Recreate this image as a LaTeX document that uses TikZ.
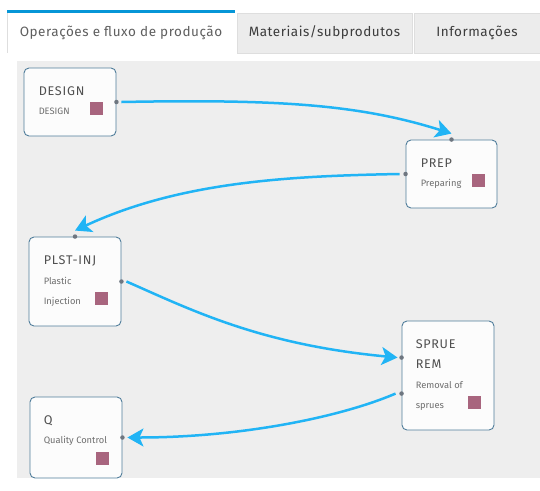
\documentclass[tikz,border=0pt]{standalone}
\usepackage{fontspec}
\setmainfont{Fira Sans}
\newfontfamily\titlefont[LetterSpace=6]{Fira Sans}
\newfontfamily\tabfont[LetterSpace=4]{Fira Sans}
\usetikzlibrary{arrows.meta}

\definecolor{canvasgray}{RGB}{238,238,238}
\definecolor{tabgray}{RGB}{236,236,236}
\definecolor{tabedge}{RGB}{222,222,222}
\definecolor{tabblue}{RGB}{6,150,215}
\definecolor{tabtext}{RGB}{60,60,60}
\definecolor{tabtextlight}{RGB}{95,95,95}
\definecolor{boxedge}{RGB}{80,125,155}
\definecolor{boxfill}{RGB}{252,252,252}
\definecolor{titlegray}{RGB}{80,80,80}
\definecolor{subgray}{RGB}{110,110,110}
\definecolor{markerred}{RGB}{168,101,126}
\definecolor{portgray}{RGB}{110,118,128}
\definecolor{flowblue}{RGB}{33,180,245}

\begin{document}
\begin{tikzpicture}
[x=1pt,y=-1pt]
\tikzset{
	tab/.style = {draw=tabedge, fill=tabgray, minimum height=40, inner sep=0, text=tabtext, font=\tabfont\fontsize{13.5}{16}\selectfont, text height=10pt, text depth=3pt},
	opbox/.style = {draw=boxedge, fill=boxfill, rounded corners=5, line width=0.9, minimum width=92},
	optitle/.style = {anchor=base west, inner sep=0, text=titlegray, font=\titlefont\fontsize{12.6}{14}\selectfont},
	opsub/.style = {anchor=base west, inner sep=0, text=subgray, font=\fontsize{9.3}{11}\selectfont},
	marker/.style = {anchor=north east, fill=markerred, minimum size=13, inner sep=0},
	port/.style = {circle, fill=portgray, inner sep=0, minimum size=4.5},
	flow/.style = {draw=flowblue, line width=2.5, -{Stealth[length=16pt,width=18pt,inset=4pt]}}
}
\useasboundingbox (0,0) rectangle (540,490);

% tabs
\node (tab-ops) [tab, fill=white, draw=none, minimum width=228, text=tabtextlight] at (121,33) {Operações e fluxo de produção};
\draw [tabedge] (tab-ops.north west) -- (tab-ops.south west);
\fill [tabblue] ([yshift=3pt]tab-ops.north west) rectangle (tab-ops.north east);
\node (tab-mat) [tab, minimum width=175] at (324.5,33) {Materiais/subprodutos};
\node (tab-info) [tab, minimum width=126] at (477,33) {Informações};

% canvas
\fill [canvasgray] (17,61) rectangle (540,478);

% operations
\node (design) [opbox, minimum height=68] at (70,102) {};
\node (prep) [opbox, minimum width=91, minimum height=68] at (451.5,174) {};
\node (plstinj) [opbox, minimum height=89] at (75,281.5) {};
\node (spruerem) [opbox, minimum height=109] at (448,375.5) {};
\node (quality) [opbox, minimum height=81] at (76,437.5) {};

\node (design-title) [optitle] at ([xshift=15pt,yshift=-28pt]design.north west) {DESIGN};
\node (design-sub) [opsub] at ([xshift=15pt,yshift=-47pt]design.north west) {DESIGN};
\node (design-mark) [marker] at ([xshift=-13pt,yshift=-34pt]design.north east) {};

\node (prep-title) [optitle] at ([xshift=15pt,yshift=-28pt]prep.north west) {PREP};
\node (prep-sub) [opsub] at ([xshift=15pt,yshift=-47pt]prep.north west) {Preparing};
\node (prep-mark) [marker] at ([xshift=-12pt,yshift=-34pt]prep.north east) {};

\node (plstinj-title) [optitle] at ([xshift=15pt,yshift=-28pt]plstinj.north west) {PLST-INJ};
\node (plstinj-sub1) [opsub] at ([xshift=15pt,yshift=-48pt]plstinj.north west) {Plastic};
\node (plstinj-sub2) [opsub] at ([xshift=15pt,yshift=-68pt]plstinj.north west) {Injection};
\node (plstinj-mark) [marker] at ([xshift=-13pt,yshift=-55pt]plstinj.north east) {};

\node (spruerem-title1) [optitle] at ([xshift=14pt,yshift=-28pt]spruerem.north west) {SPRUE};
\node (spruerem-title2) [optitle] at ([xshift=14pt,yshift=-48pt]spruerem.north west) {REM};
\node (spruerem-sub1) [opsub] at ([xshift=14pt,yshift=-68pt]spruerem.north west) {Removal of};
\node (spruerem-sub2) [opsub] at ([xshift=14pt,yshift=-88pt]spruerem.north west) {sprues};
\node (spruerem-mark) [marker] at ([xshift=-13pt,yshift=-75pt]spruerem.north east) {};

\node (quality-title) [optitle] at ([xshift=14pt,yshift=-28pt]quality.north west) {Q};
\node (quality-sub) [opsub] at ([xshift=14pt,yshift=-47pt]quality.north west) {Quality Control};
\node (quality-mark) [marker] at ([xshift=-13pt,yshift=-55pt]quality.north east) {};

% ports
\node (design-out) [port] at (design.east) {};
\node (prep-in) [port] at (prep.north) {};
\node (prep-out) [port] at (prep.west) {};
\node (plstinj-in) [port] at (plstinj.north) {};
\node (plstinj-out) [port] at (plstinj.east) {};
\node (spruerem-in) [port] at ([yshift=-37pt]spruerem.north west) {};
\node (spruerem-out) [port] at ([yshift=-73pt]spruerem.north west) {};
\node (quality-in) [port] at (quality.east) {};

% flow
\draw [flow] ([xshift=5pt]design-out.center) .. controls +(158,-3) and +(-92,-29) .. ([yshift=6pt]prep-in.center);
\draw [flow] ([xshift=-6pt]prep-out.center) .. controls +(-110,2) and +(105,-49) .. ([yshift=6pt]plstinj-in.center);
\draw [flow] ([xshift=5pt]plstinj-out.center) .. controls +(64,28) and +(-138,-13) .. ([xshift=-4pt]spruerem-in.center);
\draw [flow] ([xshift=-6pt]spruerem-out.center) .. controls +(-56,24) and +(112,0) .. ([xshift=5pt]quality-in.center);
\end{tikzpicture}
\end{document}
